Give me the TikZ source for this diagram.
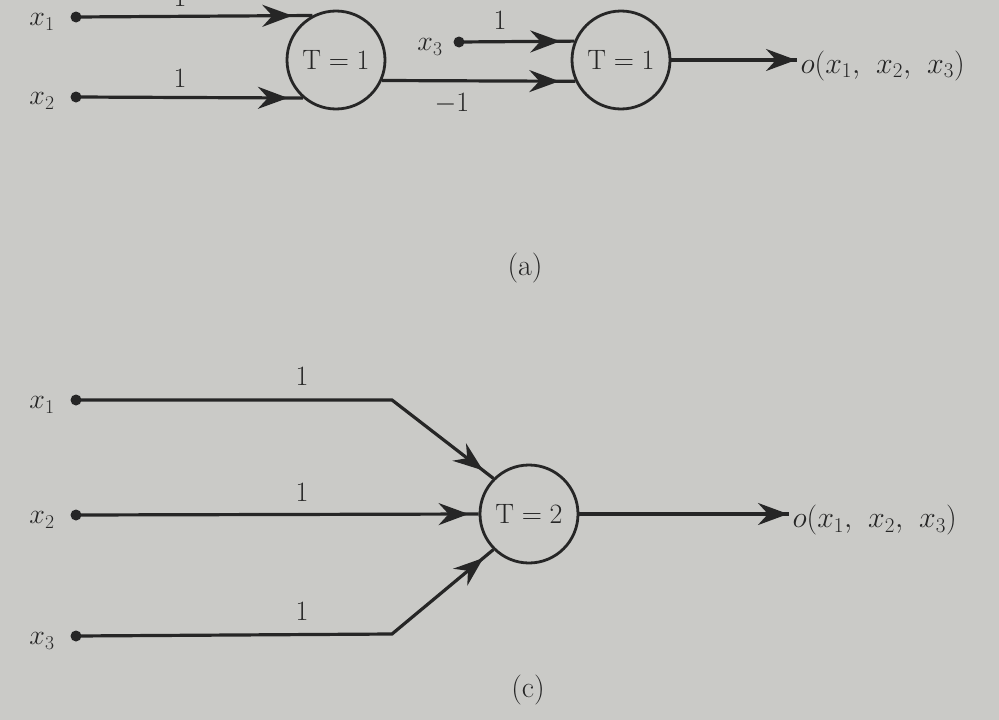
\RequirePackage{fix-cm}
\documentclass[tikz,border=0pt]{standalone}
\usetikzlibrary{arrows.meta,decorations.markings}
\definecolor{paper}{RGB}{202,202,199}
\definecolor{ink}{RGB}{38,38,38}
\begin{document}
\begin{tikzpicture}[x=1pt,y=-1pt,
  every node/.style={text=ink,font=\fontsize{28}{32}\selectfont},
  unit/.style={draw=ink,line width=2.8pt,circle,minimum size=98pt,inner sep=0pt},
  indot/.style={circle,fill=ink,minimum size=11pt,inner sep=0pt},
  wire/.style={draw=ink,line width=3.2pt},
  tipat/.style={decoration={markings,mark=at position #1 with {\arrow{Stealth[length=30pt,width=22pt,inset=10pt]}}},postaction={decorate}},
  outlabel/.style={anchor=west,font=\fontsize{30}{34}\selectfont},
  capt/.style={font=\fontsize{30}{34}\selectfont}]
\clip (0,0) rectangle (999,720);
\useasboundingbox (0,0) rectangle (999,720);
\fill[paper] (0,0) rectangle (999,720);

% ---------- (a) ----------
\node[unit] (c1) at (336,60) {$\mathrm{T}=1$};
\node[unit] (c2) at (621,60) {$\mathrm{T}=1$};
\node[indot] (a1) at (76,17) {};
\node[indot] (a2) at (76,97) {};
\node[indot] (a3) at (459,42) {};
\node (la1) at (42,22) {$x_1$};
\node (la2) at (42,101) {$x_2$};
\node (la3) at (430,47) {$x_3$};
\node (wa1) at (180,-3) {1};
\node (wa2) at (180,78) {1};
\node (wa3) at (500,20) {1};
\node (wa4) at (452,104) {$-1$};
\node[outlabel] (oa) at (797,66) {$o(x_1,\hspace{11pt}x_2,\hspace{11pt}x_3)$};
\path[wire,tipat=-20pt] (a1.center) -- (c1.118.7);
\path[wire,tipat=-15pt] (a2.center) -- (c1.229);
\path[wire,tipat=-14pt] (a3.center) -- (c2.158.4);
\path[wire,tipat=-16pt] (c1.-24.1) -- (c2.-155.9);
\path[wire,tipat=-1pt] (c2.east) -- (c2.east -| oa.west);
\node[capt] (capa) at (525,268) {(a)};

% ---------- (c) ----------
\node[unit] (c3) at (529,514) {$\mathrm{T}=2$};
\node[indot] (b1) at (76,400) {};
\node[indot] (b2) at (76,515) {};
\node[indot] (b3) at (76,636) {};
\coordinate (k1) at (392,400);
\coordinate (k3) at (392,634);
\node (lb1) at (42,405) {$x_1$};
\node (lb2) at (42,520) {$x_2$};
\node (lb3) at (42,641) {$x_3$};
\node (wb1) at (302,376) {1};
\node (wb2) at (302,492) {1};
\node (wb3) at (302,611) {1};
\node[outlabel] (ob) at (789,520) {$o(x_1,\hspace{11pt}x_2,\hspace{11pt}x_3)$};
\path[wire,tipat=-13pt] (b1.center) -- (k1) -- (c3.135);
\path[wire,tipat=-10pt] (b2.center) -- (c3.west);
\path[wire,tipat=-13pt] (b3.center) -- (k3) -- (c3.225);
\path[wire,tipat=-1pt] (c3.east) -- (c3.east -| ob.west);
\node[capt] (capc) at (528,690) {(c)};
\end{tikzpicture}
\end{document}
